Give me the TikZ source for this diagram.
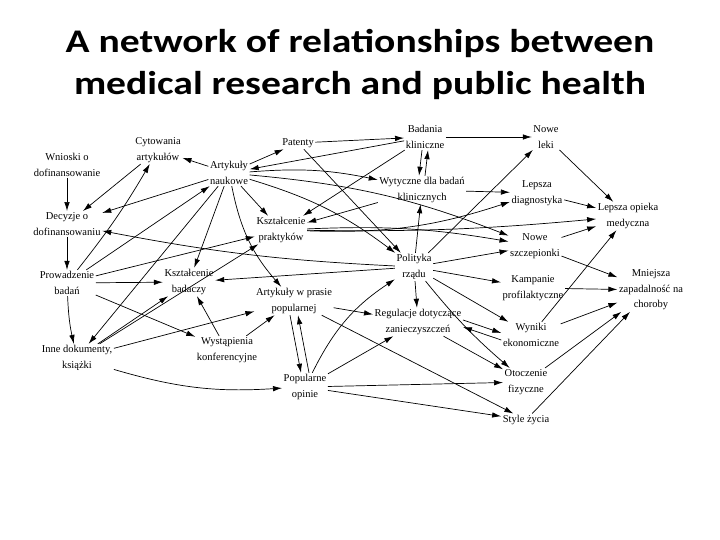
\documentclass[tikz,border=0pt]{standalone}
\usepackage{fontspec}
\setmainfont{Liberation Serif}
\newfontfamily\titlefont{Carlito}
\usetikzlibrary{arrows.meta,positioning}

\begin{document}
\begin{tikzpicture}[
  x=1pt, y=-1pt,
  >={Latex[length=9pt,width=5.5pt]},
  every node/.style={font=\fontsize{10.5}{15.5}\selectfont},
  item/.style={align=center, inner sep=1.5pt},
  arrow/.style={->, line width=0.7pt},
  heading/.style={font=\titlefont\bfseries\fontsize{33}{42}\selectfont, align=center},
]
  \useasboundingbox (0,0) rectangle (720,540);

  \node[heading] (title) at (360,64)
    {\scalebox{1.2}[1]{A network of relationships between}\\
     \scalebox{1.2}[1]{medical research and public health}};

  % research side
  \node[item] (wnioski)   at (67,165)  {Wnioski o\\dofinansowanie};
  \node[item] (cytowania) at (158,150) {Cytowania\\artykułów};
  \node[item] (artnauk)   at (229,173) {Artykuły\\naukowe};
  \node[item] (patenty)   at (298,143) {Patenty};
  \node[item] (badania)   at (425,137) {Badania\\kliniczne};
  \node[item] (decyzje)   at (67,224)  {Decyzje o\\dofinansowaniu};
  \node[item] (wytyczne)  at (422,190) {Wytyczne dla badań\\klinicznych};
  \node[item] (ksztprak)  at (281,230) {Kształcenie\\praktyków};
  \node[item] (prowadz)   at (67,283)  {Prowadzenie\\badań};
  \node[item] (ksztbad)   at (189,282) {Kształcenie\\badaczy};
  \node[item] (prasa)     at (294,301) {Artykuły w prasie\\popularnej};
  \node[item] (inne)      at (77,358)  {Inne dokumenty,\\książki};
  \node[item] (wystap)    at (227,350) {Wystąpienia\\konferencyjne};
  \node[item] (opinie)    at (305,387) {Popularne\\opinie};
  \node[item] (polityka)  at (414,267) {Polityka\\rządu};
  \node[item] (regulacje) at (418,322) {Regulacje dotyczące\\zanieczyszczeń};

  % health side
  \node[item] (noweleki)  at (546,137) {Nowe\\leki};
  \node[item] (diagn)     at (537,193) {Lepsza\\diagnostyka};
  \node[item] (opieka)    at (628,216) {Lepsza opieka\\medyczna};
  \node[item] (szczep)    at (535,246) {Nowe\\szczepionki};
  \node[item] (kampanie)  at (533,288) {Kampanie\\profilaktyczne};
  \node[item] (zapad)     at (651,290) {Mniejsza\\zapadalność na\\choroby};
  \node[item] (wyniki)    at (531,335) {Wyniki\\ekonomiczne};
  \node[item] (otocz)     at (526,382) {Otoczenie\\fizyczne};
  \node[item] (style)     at (526,420) {Style życia};

  % funding and research
  \draw[arrow] (wnioski) -- (decyzje);
  \draw[arrow] (cytowania) -- (decyzje);
  \draw[arrow] (decyzje) -- (prowadz);
  \draw[arrow] (artnauk) -- (decyzje);
  \draw[arrow] (artnauk) -- (cytowania);
  \draw[arrow] (prowadz) to[bend right=4] (cytowania);
  \draw[arrow] (prowadz) -- (artnauk);
  \draw[arrow] (prowadz) to[bend right=5] (inne);
  \draw[arrow] (prowadz) -- (ksztbad);
  \draw[arrow] (prowadz) -- (ksztprak);
  \draw[arrow] (prowadz) -- (wystap);
  \draw[arrow] (polityka) to[bend left=4] (decyzje);

  % scientific articles
  \draw[arrow] (artnauk) -- (patenty);
  \draw[arrow] (artnauk) to[bend left=8] (wytyczne);
  \draw[arrow] (artnauk) -- (ksztprak);
  \draw[arrow] (artnauk) -- (ksztbad);
  \draw[arrow] (artnauk) to[bend right=15] (prasa);
  \draw[arrow] (artnauk) -- (inne);
  \draw[arrow] (artnauk) to[bend left=10] (polityka);
  \draw[arrow] (artnauk) to[bend left=8] (szczep);
  \draw[arrow] (patenty) -- (badania);
  \draw[arrow] (patenty) -- (polityka);
  \draw[arrow] (badania) -- (artnauk);
  \draw[arrow] (badania) -- (noweleki);
  \draw[arrow] ([xshift=-3pt]badania.south) -- ([xshift=-3pt]wytyczne.north);
  \draw[arrow] ([xshift=3pt]wytyczne.north) -- ([xshift=3pt]badania.south);
  \draw[arrow] (badania) -- (ksztprak);
  \draw[arrow] (wytyczne) -- (ksztprak);
  \draw[arrow] (wytyczne) -- (diagn);

  % practitioners
  \draw[arrow] (ksztprak) to[bend right=10] (diagn);
  \draw[arrow] (ksztprak) to[bend right=3] (opieka);
  \draw[arrow] (ksztprak) to[bend left=6] (szczep);

  % other documents and conferences
  \draw[arrow] (inne) -- (ksztbad);
  \draw[arrow] (inne) -- (ksztprak);
  \draw[arrow] (inne) -- (prasa);
  \draw[arrow] (inne) to[bend right=10] (opinie);
  \draw[arrow] (wystap) -- (ksztbad);
  \draw[arrow] (wystap) -- (prasa);

  % popular press and opinion
  \draw[arrow] ([xshift=-4pt]prasa.south) -- ([xshift=-4pt]opinie.north);
  \draw[arrow] ([xshift=4pt]opinie.north) -- ([xshift=4pt]prasa.south);
  \draw[arrow] (prasa) -- (regulacje);
  \draw[arrow] (prasa) -- (style);
  \draw[arrow] (opinie) to[bend left=15] (polityka);
  \draw[arrow] (opinie) -- (regulacje);
  \draw[arrow] (opinie) -- (otocz);
  \draw[arrow] (opinie) -- (style);

  % government policy
  \draw[arrow] (polityka) -- (ksztbad);
  \draw[arrow] (polityka) -- (wytyczne);
  \draw[arrow] (polityka) -- (noweleki);
  \draw[arrow] (polityka) -- (szczep);
  \draw[arrow] (polityka) -- (kampanie);
  \draw[arrow] (polityka) -- (wyniki);
  \draw[arrow] (polityka) to[bend right=5] (otocz);
  \draw[arrow] (polityka) -- (regulacje);
  \draw[arrow] ([yshift=2pt]regulacje.east) -- ([yshift=2pt]wyniki.west);
  \draw[arrow] ([yshift=-5pt]wyniki.west) -- ([yshift=-5pt]regulacje.east);
  \draw[arrow] (regulacje) -- (otocz);

  % health outcomes
  \draw[arrow] (noweleki) -- (opieka);
  \draw[arrow] (diagn) -- (opieka);
  \draw[arrow] (szczep) -- (opieka);
  \draw[arrow] (wyniki) -- (opieka);
  \draw[arrow] (szczep) -- (zapad);
  \draw[arrow] (kampanie) -- (zapad);
  \draw[arrow] (wyniki) -- (zapad);
  \draw[arrow] (otocz) -- (zapad);
  \draw[arrow] (style) -- (zapad);
\end{tikzpicture}
\end{document}
